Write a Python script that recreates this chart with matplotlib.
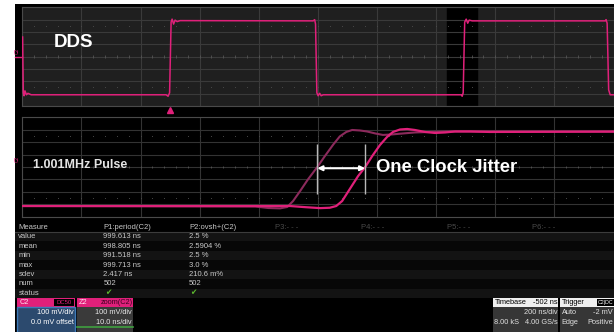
import matplotlib
matplotlib.use('Agg')
import matplotlib.pyplot as plt
from matplotlib.patches import Rectangle
from matplotlib.transforms import blended_transform_factory

plt.rcParams['font.family'] = ['Liberation Sans', 'DejaVu Sans']

W, H = 614, 332

# ---- scope settings ----
main_ns_div = 200
main_left_ns = -500
zoom_center_ns = 987
zoom_ns_div = 10
mv_div = 100
trigger_ns = 0

# ---- DDS trace (ns, mV) ----
dds_t = [-499, -496.6, -494, -491, -486, -481, -470, -13.5, -6.8, -1.7, 3.4, 6.8, 11.8, 16.9,
         23.7, 33.8, 484, 489, 492, 496.5, 500.8, 506, 511, 518, 985, 988, 991.5, 996.6,
         1001.7, 1006.8, 1011.8, 1022, 1472, 1475, 1478.5, 1483.6, 1488.7, 1502]
dds_mv = [159, -293, -317, -277, -309, -297, -309, -309, -321, -293, 280, 304, 264, 296,
          284, 292, 290, 300, 264, -293, -317, -297, -317, -309, -309, -321, -293, 280,
          304, 271, 296, 290, 290, 300, 271, -269, -309, -309]

# ---- zoomed edges (ns, mV) ----
early_t = [937, 976.4, 978.6, 980.6, 981.8, 982.8, 984.0, 985.3, 986.9, 988.2, 989.6, 990.7,
           991.8, 992.8, 994.1, 995.3, 996.7, 998.0, 999.5, 1000.9, 1003.4, 1006.0, 1009.3, 1037]
early_mv = [-314, -318, -330, -333, -322, -274, -193, -101, 0, 89, 181, 246,
            282, 298, 294, 286, 270, 258, 262, 268, 278, 282, 286, 285]
late_t = [937, 982.3, 984.8, 987.4, 989.0, 990.1, 991.1, 992.4, 993.8, 995.0, 996.2, 997.5,
          998.7, 999.7, 1000.9, 1002.1, 1003.4, 1005.1, 1006.8, 1008.5, 1010.2, 1012.7, 1016.1, 1037]
late_mv = [-314, -314, -323, -331, -328, -314, -274, -177, -73, 0, 89, 177,
           242, 282, 302, 306, 298, 282, 274, 278, 286, 286, 282, 285]
jitter_edges_ns = [986.9, 995.0]

# ---- measurement table ----
headers = ['Measure', 'P1:period(C2)', 'P2:ovsh+(C2)', 'P3:- - -', 'P4:- - -', 'P5:- - -', 'P6:- - -']
measure_rows = ['value', 'mean', 'min', 'max', 'sdev', 'num', 'status']
p1_vals = ['999.613 ns', '998.805 ns', '991.518 ns', '999.713 ns', '2.417 ns', '502', '\u2714']
p2_vals = ['2.5 %', '2.5904 %', '2.5 %', '3.0 %', '210.6 m%', '502', '\u2714']

MAG = '#e0207a'
MAG_DK = '#8c2a5c'

fig = plt.figure(figsize=(W / 100, H / 100), dpi=100)
fig.patch.set_facecolor('black')


def px_axes(x0, y0, x1, y1):
    return fig.add_axes([x0 / W, 1 - y1 / H, (x1 - x0) / W, (y1 - y0) / H])


# background layer in pixel coords
bg = px_axes(0, 0, W, H)
bg.set_xlim(0, W)
bg.set_ylim(H, 0)
bg.axis('off')
bg.add_patch(Rectangle((0, 0), 15, H, fc='white', ec='none'))
bg.add_patch(Rectangle((0, 0), W, 4, fc='white', ec='none'))

# table
col_x = [18.3, 103.3, 189, 275, 361, 446.7, 531.7]
row_h = 9.45
for i in range(len(measure_rows)):
    bg.add_patch(Rectangle((15, 232 + i * row_h), W - 15, row_h,
                           fc='#131313' if i % 2 == 0 else '#070707', ec='none'))
bg.plot([15, W], [231.5, 231.5], color='#3c3c3c', lw=0.8)
for j, hd in enumerate(headers):
    bg.text(col_x[j], 227.3, hd, fontsize=5.5, va='center',
            color='#c8c8c8' if j < 3 else '#4a4a4a')
for i, name in enumerate(measure_rows):
    y = 236.7 + i * row_h
    bg.text(col_x[0], y, name, fontsize=5.5, va='center', color='#c8c8c8')
    for j, vals in ((1, p1_vals), (2, p2_vals)):
        is_ok = vals[i] == '\u2714'
        bg.text(col_x[j] + (1.5 if is_ok else 0), y, vals[i], fontsize=5.5, va='center',
                color='#5cb82e' if is_ok else '#c8c8c8')

# channel boxes
def box(x0, w, head_fc, body_fc, body_ec=None):
    bg.add_patch(Rectangle((x0, 298.3), w, 8.2, fc=head_fc, ec='none'))
    bg.add_patch(Rectangle((x0, 306.5), w, 26, fc=body_fc,
                           ec=body_ec if body_ec else 'none', lw=1))

fs = 5.3
box(17.3, 57.7, MAG, '#2c4a6e', '#3d7ab8')
bg.text(20, 302.4, 'C2', fontsize=fs, va='center', color='#ffe0ee')
bg.add_patch(Rectangle((54, 299.3), 20, 6.4, fc='black', ec='none'))
bg.text(64, 302.5, 'DC50', fontsize=4.3, va='center', ha='center', color=MAG)
bg.text(74, 313, '100 mV/div', fontsize=fs, va='center', ha='right', color='white')
bg.text(74, 322.5, '0.0 mV offset', fontsize=fs, va='center', ha='right', color='white')

box(76.7, 56.6, MAG, '#3a3a3a')
bg.text(79, 302.4, 'Z2', fontsize=fs, va='center', color='#ffe0ee')
bg.text(132.5, 302.4, 'zoom(C2)', fontsize=fs, va='center', ha='right', color='#3a0020')
bg.text(132, 313, '100 mV/div', fontsize=fs, va='center', ha='right', color='#e8e8e8')
bg.text(132, 322.5, '10.0 ns/div', fontsize=fs, va='center', ha='right', color='#e8e8e8')
bg.plot([77, 133], [327.3, 327.3], color='#3fa040', lw=1.2)

box(492.7, 65.6, '#f0f0f0', '#363636')
bg.text(494.5, 302.4, 'Timebase', fontsize=fs, va='center', color='black')
bg.text(557.5, 302.4, '-502 ns', fontsize=fs, va='center', ha='right', color='black')
bg.text(557.5, 313, '200 ns/div', fontsize=fs, va='center', ha='right', color='#e0e0e0')
bg.text(494, 322.5, '8.00 kS', fontsize=fs, va='center', color='#e0e0e0')
bg.text(557.5, 322.5, '4.00 GS/s', fontsize=fs, va='center', ha='right', color='#e0e0e0')

box(560, 54, '#f0f0f0', '#363636')
bg.text(561.5, 302.4, 'Trigger', fontsize=fs, va='center', color='black')
bg.add_patch(Rectangle((597, 299.2), 17, 6.5, fc='black', ec='none'))
bg.text(605.5, 302.5, 'C2|DC', fontsize=3.8, va='center', ha='center', color='white')
bg.text(561.5, 313, 'Auto', fontsize=fs, va='center', color='#e0e0e0')
bg.text(613, 313, '-2 mV', fontsize=fs, va='center', ha='right', color='#e0e0e0')
bg.text(561.5, 322.5, 'Edge', fontsize=fs, va='center', color='#e0e0e0')
bg.text(613, 322.5, 'Positive', fontsize=fs, va='center', ha='right', color='#e0e0e0')


def scope_grid(ax, left, per_div, face, grid_c):
    ax.set_facecolor(face)
    ax.set_xlim(left, left + 10 * per_div)
    ax.set_ylim(-4 * mv_div, 4 * mv_div)
    ax.set_xticks([left + k * per_div for k in range(11)])
    ax.set_yticks([k * mv_div for k in range(-4, 5)])
    ax.grid(True, color=grid_c, lw=0.8)
    ax.tick_params(length=0, labelbottom=False, labelleft=False)
    for s in ax.spines.values():
        s.set_color('#4a4a4a')
        s.set_linewidth(0.8)
    sub = [left + k * per_div / 5 for k in range(51)]
    ax.vlines(sub, -0.1 * mv_div, 0.1 * mv_div, color='#555555', lw=0.6)
    for lvl in (2.5 * mv_div, -2.5 * mv_div):
        ax.plot(sub, [lvl] * len(sub), ls='none', marker='s', ms=0.6, mew=0,
                color='#4a4a4a')
    ax.set_axisbelow(True)


# top panel
ax1 = px_axes(22.3, 7.3, 613.5, 106)
scope_grid(ax1, main_left_ns, main_ns_div, '#1f1f1f', '#3a3a3a')
half = 5 * zoom_ns_div
ax1.axvspan(zoom_center_ns - half, zoom_center_ns + half, color='black', zorder=0.5)
ax1.plot(dds_t, dds_mv, color=MAG, lw=1.1, zorder=3)
ax1.text(0.0536, 0.643, 'DDS', transform=ax1.transAxes, va='center', fontsize=13.5,
         fontweight='bold', color='white')
tr = blended_transform_factory(ax1.transData, ax1.transAxes)
ax1.plot([trigger_ns], [-0.04], marker='^', ms=4, color=MAG, transform=tr, clip_on=False)
ax1.plot([-0.012, 0], [0.5, 0.5], color=MAG, lw=1, transform=ax1.transAxes, clip_on=False)
ax1.text(-0.008, 0.56, 'C2', transform=ax1.transAxes, fontsize=3.5, rotation=90,
         color=MAG, ha='center', va='center')

# bottom (zoom) panel
ax2 = px_axes(22.3, 117.3, 613.5, 216.7)
scope_grid(ax2, zoom_center_ns - half, zoom_ns_div, 'black', '#333333')
ax2.plot(early_t, early_mv, color=MAG_DK, lw=1.5, zorder=3)
ax2.plot(late_t, late_mv, color=MAG, lw=1.6, zorder=4)
ax2.vlines(jitter_edges_ns, -218, 185, color='#b8b8b8', lw=1, zorder=5)
ax2.annotate('', xy=(jitter_edges_ns[0], -10), xytext=(jitter_edges_ns[1], -10),
             arrowprops=dict(arrowstyle='<|-|>', color='white', lw=1.5,
                             shrinkA=0, shrinkB=0, mutation_scale=7), zorder=6)
ax2.text(0.598, 0.5, 'One Clock Jitter', transform=ax2.transAxes, va='center',
         fontsize=13.3, fontweight='bold', color='white', zorder=6)
ax2.text(0.018, 0.525, '1.001MHz Pulse', transform=ax2.transAxes, va='center',
         fontsize=9, fontweight='bold', color='#e4e4e4', zorder=6)
ax2.text(-0.008, 0.58, 'C2', transform=ax2.transAxes, fontsize=3.5, rotation=90,
         color=MAG, ha='center', va='center')

fig.savefig('out.png', dpi=100, facecolor=fig.get_facecolor())
